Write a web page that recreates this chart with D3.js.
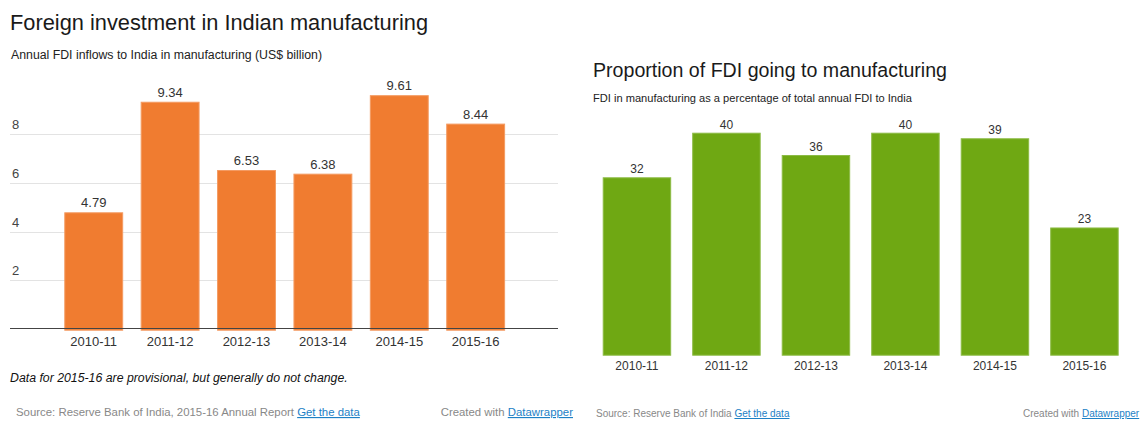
<!DOCTYPE html>
<html>
<head>
<meta charset="utf-8">
<script src="https://cdn.jsdelivr.net/npm/d3@7"></script>
<style>
  body { margin: 0; background: #fff; }
  svg { font-family: "Liberation Sans", Arial, sans-serif; }
  .link { fill: #1d81c6; text-decoration: underline; }
</style>
</head>
<body>
<svg id="chart" width="1140" height="421"></svg>
<script>
// data
var years = ["2010-11", "2011-12", "2012-13", "2013-14", "2014-15", "2015-16"];
var fdiManufacturing = [4.79, 9.34, 6.53, 6.38, 9.61, 8.44];
var fdiShare = [32, 40, 36, 40, 39, 23];
var leftTicks = [2, 4, 6, 8];

var svg = d3.select("#chart");

// ---- left chart: FDI inflows ----
var left = svg.append("g");

left.append("text").attr("x", 10).attr("y", 30)
  .attr("font-size", 21.8).attr("fill", "#1a1a1a")
  .text("Foreign investment in Indian manufacturing");
left.append("text").attr("x", 11).attr("y", 59)
  .attr("font-size", 12.3).attr("fill", "#222")
  .text("Annual FDI inflows to India in manufacturing (US$ billion)");

var x1 = d3.scaleBand().domain(years).range([55.5, 513.9])
  .paddingInner(0.229).paddingOuter(0.115);
var y1 = d3.scaleLinear().domain([0, 10]).range([328.7, 85.7]);

// grid + tick labels
left.selectAll(".grid").data(leftTicks).enter().append("line")
  .attr("x1", 10).attr("x2", 558)
  .attr("y1", function(d) { return Math.round(y1(d)) + 0.5; })
  .attr("y2", function(d) { return Math.round(y1(d)) + 0.5; })
  .attr("stroke", "#e3e3e3");
left.selectAll(".tick").data(leftTicks).enter().append("text")
  .attr("x", 12).attr("y", function(d) { return y1(d) - 5; })
  .attr("font-size", 13).attr("fill", "#444")
  .text(function(d) { return d; });

left.selectAll(".bar").data(fdiManufacturing).enter().append("rect")
  .attr("x", function(d, i) { return x1(years[i]) + 0.5; })
  .attr("y", function(d) { return y1(d) + 0.5; })
  .attr("width", x1.bandwidth() - 1)
  .attr("height", function(d) { return y1(0) - y1(d) + 1; })
  .attr("fill", "#f07c30").attr("stroke", "#f49b62");

left.append("line").attr("x1", 10).attr("x2", 558)
  .attr("y1", 328.5).attr("y2", 328.5).attr("stroke", "#444");

left.selectAll(".val").data(fdiManufacturing).enter().append("text")
  .attr("x", function(d, i) { return x1(years[i]) + x1.bandwidth() / 2; })
  .attr("y", function(d) { return y1(d) - 5; })
  .attr("text-anchor", "middle").attr("font-size", 13).attr("fill", "#333")
  .text(function(d) { return d3.format(".2f")(d); });

left.selectAll(".xl").data(years).enter().append("text")
  .attr("x", function(d) { return x1(d) + x1.bandwidth() / 2; })
  .attr("y", 346)
  .attr("text-anchor", "middle").attr("font-size", 13).attr("fill", "#333")
  .text(function(d) { return d; });

left.append("text").attr("x", 10).attr("y", 382)
  .attr("font-size", 12.3).attr("font-style", "italic").attr("fill", "#111")
  .text("Data for 2015-16 are provisional, but generally do not change.");

var src1 = left.append("text").attr("x", 16).attr("y", 416)
  .attr("font-size", 11.4).attr("fill", "#888");
src1.append("tspan").text("Source: Reserve Bank of India, 2015-16 Annual Report ");
src1.append("tspan").attr("class", "link").text("Get the data");

var cw1 = left.append("text").attr("x", 573).attr("y", 416)
  .attr("text-anchor", "end").attr("font-size", 11.4).attr("fill", "#888");
cw1.append("tspan").text("Created with ");
cw1.append("tspan").attr("class", "link").text("Datawrapper");

// ---- right chart: share of FDI ----
var right = svg.append("g");

right.append("text").attr("x", 593).attr("y", 77)
  .attr("font-size", 19.6).attr("fill", "#1a1a1a")
  .text("Proportion of FDI going to manufacturing");
right.append("text").attr("x", 593).attr("y", 102)
  .attr("font-size", 11.1).attr("fill", "#222")
  .text("FDI in manufacturing as a percentage of total annual FDI to India");

var x2 = d3.scaleBand().domain(years).range([592.2, 1129.2])
  .paddingInner(0.235).paddingOuter(0.1175);
var y2 = d3.scaleLinear().domain([0, 40]).range([355.7, 132.7]);

right.selectAll(".bar").data(fdiShare).enter().append("rect")
  .attr("x", function(d, i) { return x2(years[i]) + 0.5; })
  .attr("y", function(d) { return y2(d) + 0.5; })
  .attr("width", x2.bandwidth() - 1)
  .attr("height", function(d) { return y2(0) - y2(d) - 1; })
  .attr("fill", "#6fa813").attr("stroke", "#8cbb45");

right.selectAll(".val").data(fdiShare).enter().append("text")
  .attr("x", function(d, i) { return x2(years[i]) + x2.bandwidth() / 2; })
  .attr("y", function(d) { return y2(d) - 4; })
  .attr("text-anchor", "middle").attr("font-size", 12).attr("fill", "#333")
  .text(function(d) { return d; });

right.selectAll(".xl").data(years).enter().append("text")
  .attr("x", function(d) { return x2(d) + x2.bandwidth() / 2; })
  .attr("y", 370)
  .attr("text-anchor", "middle").attr("font-size", 12).attr("fill", "#333")
  .text(function(d) { return d; });

var src2 = right.append("text").attr("x", 596).attr("y", 417)
  .attr("font-size", 10).attr("fill", "#888");
src2.append("tspan").text("Source: Reserve Bank of India ");
src2.append("tspan").attr("class", "link").text("Get the data");

var cw2 = right.append("text").attr("x", 1023).attr("y", 417)
  .attr("font-size", 10).attr("fill", "#888");
cw2.append("tspan").text("Created with ");
cw2.append("tspan").attr("class", "link").text("Datawrapper");
</script>
</body>
</html>
